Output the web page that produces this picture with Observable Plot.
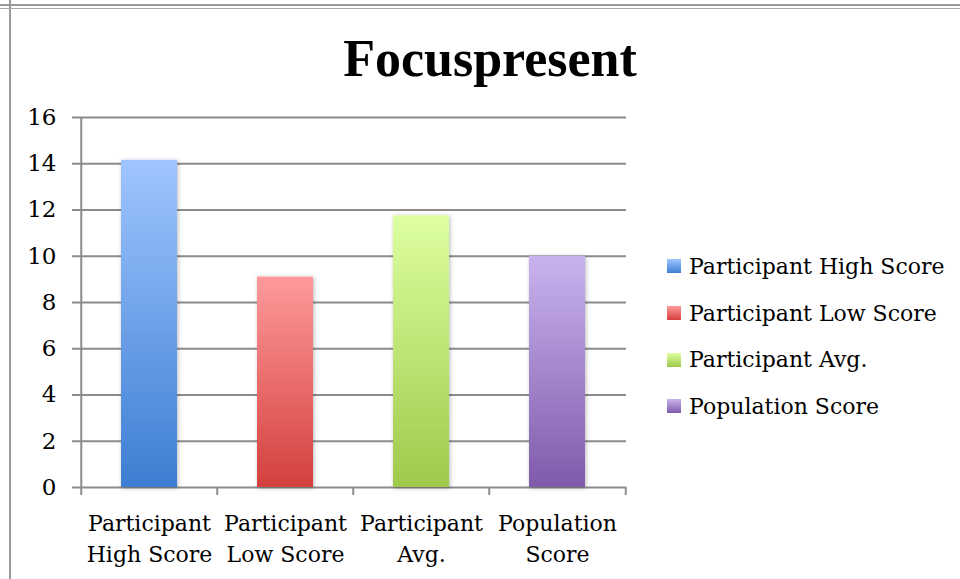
<!DOCTYPE html>
<html>
<head>
<meta charset="utf-8">
<script src="https://cdn.jsdelivr.net/npm/d3@7"></script>
<script src="https://cdn.jsdelivr.net/npm/@observablehq/plot@0.6"></script>
<style>
  body { margin: 0; background: #fff; }
  #wrap { position: relative; width: 960px; height: 579px; overflow: hidden; background: #fff; }
  .vline { position: absolute; left: 9px; top: 0; width: 2px; height: 579px; background: #9a9a9a; }
  .hline { position: absolute; left: 0; top: 4px; width: 960px; height: 5px; border-top: 2px solid #9a9a9a; border-bottom: 1px solid #a8a8a8; box-sizing: border-box; }
  #title { height: 100px; box-sizing: border-box; padding-top: 33px; padding-left: 20px; text-align: center;
           font: bold 52px "Liberation Serif", serif; line-height: 52px; color: #000; }
  #chart svg { display: block; }
  #legend { position: absolute; left: 667px; top: 243px; font: 22px "DejaVu Serif", serif; color: #000; }
  .row { height: 46.7px; display: flex; align-items: center; white-space: nowrap; }
  .sw { width: 14px; height: 14px; margin-right: 8px; flex: none; }
</style>
</head>
<body>
<div id="wrap">
  <div class="vline"></div>
  <div class="hline"></div>
  <div id="title">Focuspresent</div>
  <div id="chart"></div>
  <div id="legend"></div>
</div>
<script>
const categories = ["Participant High Score", "Participant Low Score", "Participant Avg.", "Population Score"];
const axisLabels = ["Participant\nHigh Score", "Participant\nLow Score", "Participant\nAvg.", "Population\nScore"];
const values = [14.15, 9.1, 11.75, 10];
const yTicks = [0, 2, 4, 6, 8, 10, 12, 14, 16];
const topColors = ["#9fc5ff", "#ff9a9a", "#ddffa0", "#c9b3ee"];
const bottomColors = ["#3d7ed2", "#d3403e", "#9fc94b", "#7f5bab"];

const W = 960, H = 479, mL = 80, mR = 334, mT = 17, mB = 92;
const bw = (W - mL - mR) / categories.length;
const gridColor = "#8c8c8c";

const data = categories.map((c, i) => ({category: c, label: axisLabels[i], value: values[i], grad: `url(#grad${i})`}));

const defs = () => {
  const d = d3.create("svg:defs");
  categories.forEach((c, i) => {
    const g = d.append("linearGradient").attr("id", `grad${i}`)
      .attr("x1", 0).attr("y1", 0).attr("x2", 0).attr("y2", 1);
    g.append("stop").attr("offset", "0%").attr("stop-color", topColors[i]);
    g.append("stop").attr("offset", "100%").attr("stop-color", bottomColors[i]);
  });
  const f = d.append("filter").attr("id", "shadow")
    .attr("x", "-30%").attr("y", "-10%").attr("width", "160%").attr("height", "120%");
  f.append("feDropShadow").attr("dx", 1).attr("dy", 1).attr("stdDeviation", 2)
    .attr("flood-color", "#000").attr("flood-opacity", 0.28);
  return d.node();
};

const plot = Plot.plot({
  width: W, height: H,
  marginLeft: mL, marginRight: mR, marginTop: mT, marginBottom: mB,
  style: {fontFamily: '"DejaVu Serif", serif', fontSize: "22px", color: "#000", background: "transparent", overflow: "visible"},
  x: {type: "band", domain: categories, padding: 0, axis: null},
  y: {domain: [0, 16], axis: null},
  color: {type: "identity"},
  marks: [
    defs,
    Plot.ruleY(yTicks, {y: d => d, stroke: gridColor, strokeWidth: 2, insetLeft: -8}),
    Plot.ruleX(categories.slice(0, 1), {x: d => d, dx: -bw / 2, y1: 0, y2: 16, stroke: gridColor, strokeWidth: 2}),
    Plot.ruleX(categories, {x: d => d, dx: -bw / 2, y1: 0, y2: 0, insetBottom: -8, stroke: gridColor, strokeWidth: 2}),
    Plot.ruleX(categories.slice(-1), {x: d => d, dx: bw / 2, y1: 0, y2: 0, insetBottom: -8, stroke: gridColor, strokeWidth: 2}),
    Plot.barY(data, {x: "category", y: "value", fill: "grad", insetLeft: 40, insetRight: 40}),
    Plot.text(yTicks, {y: d => d, text: d => String(d), frameAnchor: "left", textAnchor: "end", dx: -24, fontSize: 23, fill: "#000"}),
    Plot.text(data, {x: "category", y: 0, text: "label", lineAnchor: "top", dy: 21, lineHeight: 1.41, fontSize: 22, fill: "#000"})
  ]
});
d3.select(plot).selectAll('g[aria-label="bar"]').attr("filter", "url(#shadow)");
document.getElementById("chart").appendChild(plot);

const legend = d3.select("#legend");
categories.forEach((c, i) => {
  const row = legend.append("div").attr("class", "row");
  row.append("div").attr("class", "sw")
    .style("background", `linear-gradient(to bottom, ${topColors[i]}, ${bottomColors[i]})`);
  row.append("span").text(c);
});
</script>
</body>
</html>
